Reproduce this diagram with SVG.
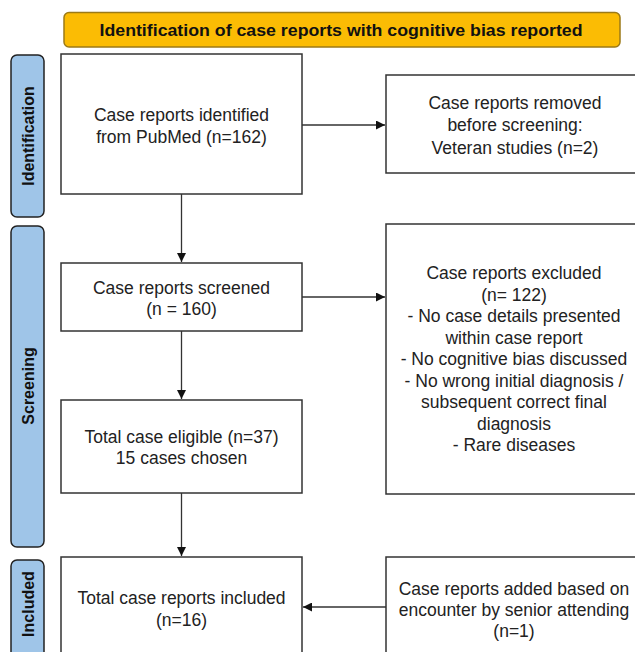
<svg xmlns="http://www.w3.org/2000/svg" width="635" height="652" viewBox="0 0 635 652">
<defs>
<style>
.box{fill:#fff;stroke:#333;stroke-width:1.5}
.side{fill:#9fc5e8;stroke:#222;stroke-width:1.5}
.t{font-family:"Liberation Sans",Arial,sans-serif;font-size:17.5px;fill:#222;text-anchor:middle}
.st{font-family:"Liberation Sans",Arial,sans-serif;font-size:16px;font-weight:bold;fill:#111;text-anchor:middle}
.c{stroke:#333;stroke-width:1.3;fill:none}
</style>
<marker id="ah" viewBox="0 0 10 10" refX="10" refY="5" markerWidth="9" markerHeight="9" markerUnits="userSpaceOnUse" orient="auto">
<path d="M0,0 L10,5 L0,10 z" fill="#111"/>
</marker>
</defs>
<rect width="635" height="652" fill="#fff"/>

<g id="title">
<rect x="64" y="12.5" width="556" height="34.5" rx="5" fill="#fbbc04" stroke="#9c7a17" stroke-width="1.5"/>
<text x="341" y="36" font-family="'Liberation Sans',Arial,sans-serif" font-size="17px" font-weight="bold" fill="#111" text-anchor="middle" textLength="483" lengthAdjust="spacingAndGlyphs">Identification of case reports with cognitive bias reported</text>
</g>

<g id="lbl-identification">
<rect class="side" x="11" y="55" width="33" height="162" rx="6"/>
<text class="st" transform="translate(34 136) rotate(-90)">Identification</text>
</g>
<g id="lbl-screening">
<rect class="side" x="11" y="226" width="33" height="321" rx="6"/>
<text class="st" transform="translate(34 386) rotate(-90)">Screening</text>
</g>
<g id="lbl-included">
<rect class="side" x="11" y="560" width="33" height="110" rx="6"/>
<text class="st" transform="translate(34 604) rotate(-90)">Included</text>
</g>

<g id="n-identified">
<rect class="box" x="61" y="54" width="241" height="140"/>
<text class="t" x="181.5" y="121">Case reports identified</text>
<text class="t" x="181.5" y="143">from PubMed (n=162)</text>
</g>
<g id="n-removed">
<rect class="box" x="386" y="75" width="270" height="98"/>
<text class="t" x="515" y="109">Case reports removed</text>
<text class="t" x="515" y="131">before screening:</text>
<text class="t" x="515" y="154">Veteran studies (n=2)</text>
</g>
<g id="n-screened">
<rect class="box" x="61" y="263" width="241" height="68"/>
<text class="t" x="181.5" y="294">Case reports screened</text>
<text class="t" x="181.5" y="315">(n = 160)</text>
</g>
<g id="n-excluded">
<rect class="box" x="386" y="224" width="270" height="270"/>
<text class="t" x="514" y="279">Case reports excluded</text>
<text class="t" x="514" y="300.5">(n= 122)</text>
<text class="t" x="514" y="322">- No case details presented</text>
<text class="t" x="514" y="343.5">within case report</text>
<text class="t" x="514" y="365">- No cognitive bias discussed</text>
<text class="t" x="514" y="386.5">- No wrong initial diagnosis /</text>
<text class="t" x="514" y="408">subsequent correct final</text>
<text class="t" x="514" y="429.5">diagnosis</text>
<text class="t" x="514" y="451">- Rare diseases</text>
</g>
<g id="n-eligible">
<rect class="box" x="61" y="400" width="241" height="93"/>
<text class="t" x="181.5" y="443">Total case eligible (n=37)</text>
<text class="t" x="181.5" y="464">15 cases chosen</text>
</g>
<g id="n-included">
<rect class="box" x="61" y="557" width="241" height="110"/>
<text class="t" x="181.5" y="604">Total case reports included</text>
<text class="t" x="181.5" y="626">(n=16)</text>
</g>
<g id="n-added">
<rect class="box" x="386" y="557" width="270" height="110"/>
<text class="t" x="514" y="595">Case reports added based on</text>
<text class="t" x="514" y="616">encounter by senior attending</text>
<text class="t" x="514" y="637">(n=1)</text>
</g>

<g id="connectors">
<line class="c" x1="302" y1="125" x2="385" y2="125" marker-end="url(#ah)"/>
<line class="c" x1="181.5" y1="194" x2="181.5" y2="262" marker-end="url(#ah)"/>
<line class="c" x1="302" y1="297" x2="385" y2="297" marker-end="url(#ah)"/>
<line class="c" x1="181.5" y1="331" x2="181.5" y2="399" marker-end="url(#ah)"/>
<line class="c" x1="181.5" y1="493" x2="181.5" y2="556" marker-end="url(#ah)"/>
<line class="c" x1="386" y1="607" x2="303" y2="607" marker-end="url(#ah)"/>
</g>
</svg>
